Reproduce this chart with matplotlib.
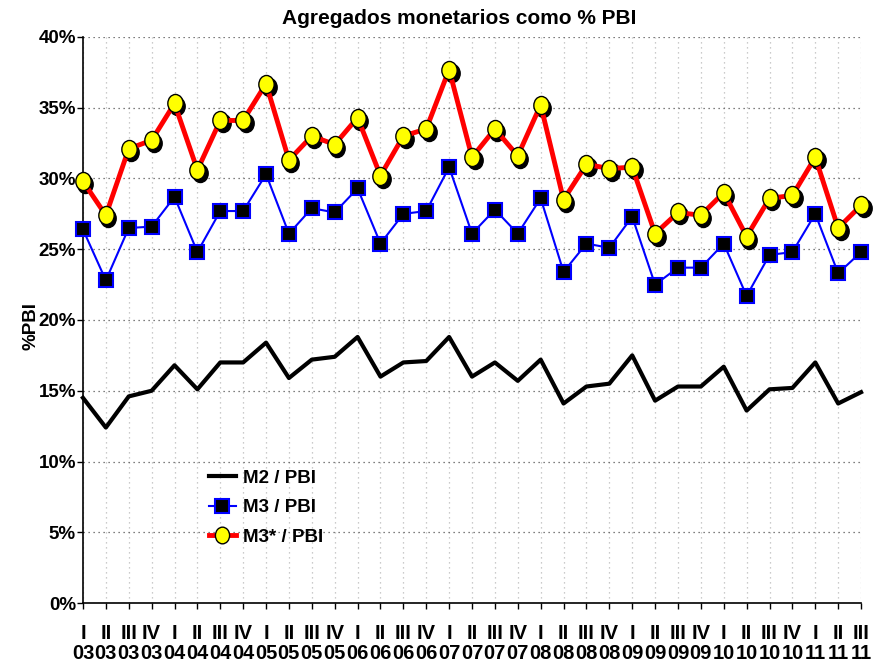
import numpy as np
import matplotlib.pyplot as plt
import matplotlib.transforms as mtransforms
from matplotlib.path import Path

plt.rcParams['font.family'] = ['Liberation Sans', 'DejaVu Sans']

quarters = ['I', 'II', 'III', 'IV']
years = ['03', '04', '05', '06', '07', '08', '09', '10', '11']
labels = [f'{q}\n{y}' for y in years for q in quarters][:35]

m2 = [14.5, 12.4, 14.6, 15.0, 16.8, 15.1, 17.0, 17.0, 18.4, 15.9, 17.2, 17.4,
      18.8, 16.0, 17.0, 17.1, 18.8, 16.0, 17.0, 15.7, 17.2, 14.1, 15.3, 15.5,
      17.5, 14.3, 15.3, 15.3, 16.7, 13.6, 15.1, 15.2, 17.0, 14.1, 14.9]
m3 = [26.4, 22.8, 26.5, 26.6, 28.7, 24.8, 27.7, 27.7, 30.3, 26.1, 27.9, 27.6,
      29.3, 25.4, 27.5, 27.7, 30.8, 26.1, 27.8, 26.1, 28.6, 23.4, 25.4, 25.1,
      27.3, 22.5, 23.7, 23.7, 25.4, 21.7, 24.6, 24.8, 27.5, 23.3, 24.8]
m3s = [29.8, 27.4, 32.1, 32.7, 35.3, 30.6, 34.1, 34.1, 36.7, 31.3, 33.0, 32.4,
       34.3, 30.2, 33.0, 33.5, 37.7, 31.5, 33.5, 31.6, 35.2, 28.5, 31.0, 30.7,
       30.8, 26.1, 27.6, 27.4, 29.0, 25.9, 28.6, 28.8, 31.5, 26.5, 28.1]

x = np.arange(len(labels))

# slightly tall ellipse for the yellow markers
circ = Path.unit_circle()
ellipse = Path(circ.vertices * [0.85, 1.0], circ.codes)

fig = plt.figure(figsize=(8.96, 6.65), dpi=100)
ax = fig.add_axes([0.0926, 0.0932, 0.8684, 0.8512])

ax.plot(x, m2, color='black', lw=3, label='M2 / PBI', zorder=3, clip_on=False)
ax.plot(x, m3, color='#0000ff', lw=1.5, marker='s', ms=9.5, mfc='black',
        mec='#0000ff', mew=1.5, label='M3 / PBI', zorder=4, clip_on=False)

shadow = mtransforms.offset_copy(ax.transData, fig=fig, x=2.5, y=-3, units='dots')
ax.plot(x, m3s, ls='none', marker=ellipse, ms=13, mfc='black', mec='black',
        transform=shadow, zorder=5, clip_on=False)
ax.plot(x, m3s, color='#ff0000', lw=3.5, zorder=5, clip_on=False)
ax.plot(x, m3s, ls='none', marker=ellipse, ms=13, mfc='#ffff00', mec='black',
        mew=1, zorder=6, clip_on=False)
h_m3s, = ax.plot([], [], color='#ff0000', lw=3.5, marker=ellipse, ms=12,
                 mfc='#ffff00', mec='black', label='M3* / PBI')

ax.set_xlim(0, 34)
ax.set_ylim(0, 40)
ax.set_yticks(np.arange(0, 41, 5))
ax.set_yticklabels([f'{v}%' for v in range(0, 41, 5)], fontweight='bold', fontsize=13.5)
ax.set_xticks(x)
ax.set_xticklabels(labels, fontweight='bold', fontsize=14.5, linespacing=1.1)
ax.tick_params(axis='x', length=4, width=1, pad=11)
ax.tick_params(axis='y', length=4, width=1, pad=1)

ax.grid(axis='y', ls=(0, (1, 3)), color='#555555', lw=0.9)
ax.grid(axis='x', ls=(0, (1, 3)), color='#bbbbbb', lw=0.9)
ax.set_axisbelow(True)
for s in ['top', 'right']:
    ax.spines[s].set_visible(False)
ax.spines['left'].set_linewidth(1.2)
ax.spines['bottom'].set_linewidth(1.2)

fig.text(0.512, 0.972, 'Agregados monetarios como % PBI', fontweight='bold',
         fontsize=15, ha='center', va='center')
ax.set_ylabel('%PBI', fontweight='bold', fontsize=13.5)
ax.yaxis.set_label_coords(-0.056, 0.49)

ax.legend(handles=ax.lines[:2] + [h_m3s], loc='upper left',
          bbox_to_anchor=(0.14, 0.265), frameon=False,
          prop={'weight': 'bold', 'size': 13.5}, handlelength=1.45,
          handletextpad=0.35, labelspacing=0.65)

fig.savefig('out.png', dpi=100)
